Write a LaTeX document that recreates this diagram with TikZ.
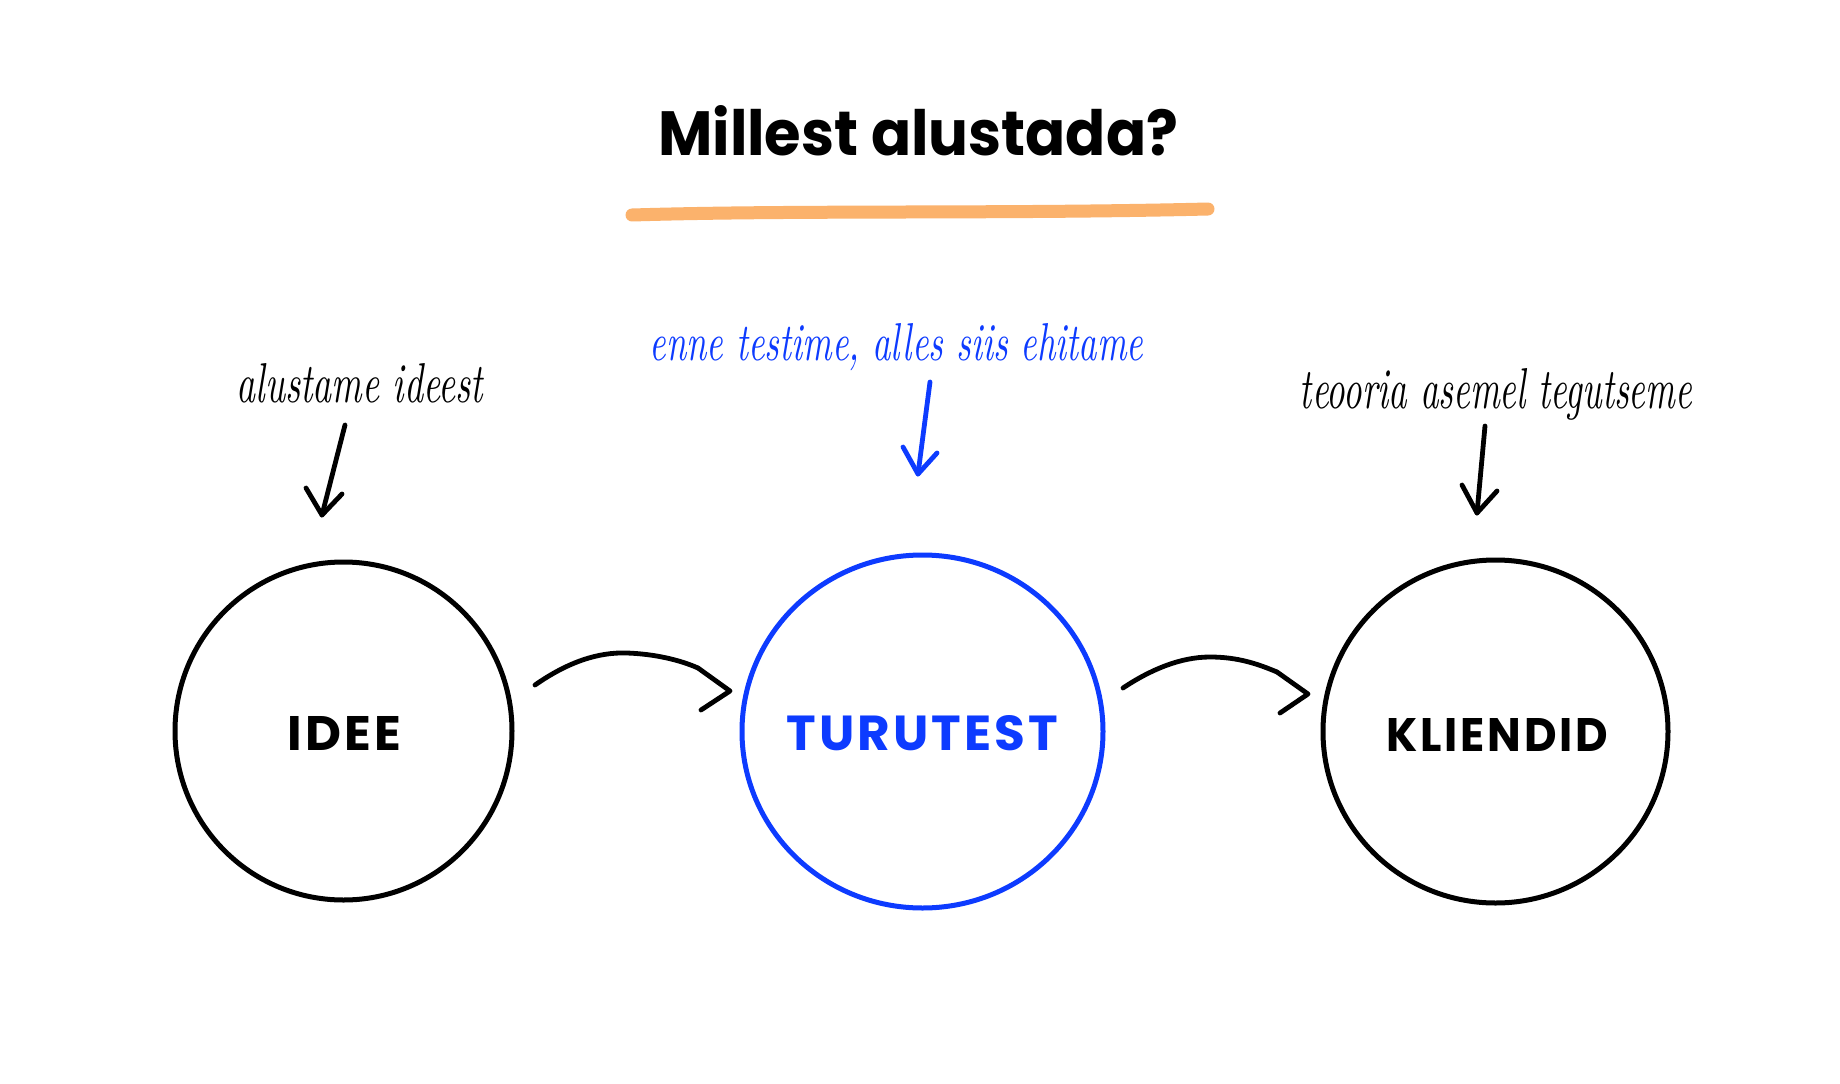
\documentclass[tikz,border=0pt]{standalone}
\usepackage{fontspec}
\usetikzlibrary{shapes.geometric}
\newfontfamily\titlefont{Poppins Bold}
\newfontfamily\labelfont{Poppins Bold}[LetterSpace=6]
\definecolor{brandblue}{HTML}{0D3BFF}
\definecolor{brandorange}{HTML}{FBB26C}
\begin{document}
\begin{tikzpicture}[x=1pt,y=-1pt,
  ring/.style={ellipse, draw, line width=5pt, inner sep=0pt},
  hand/.style={font=\itshape, inner sep=0pt, anchor=base},
  lbl/.style={inner sep=0pt, anchor=base},
  conn/.style={line width=4.8pt, line cap=round, line join=round}]
\fill[white] (0,0) rectangle (1840,1084);
\useasboundingbox (0,0) rectangle (1840,1084);

% title and underline
\node[lbl, anchor=base west] (title) at (658,155) {\resizebox{520pt}{50pt}{\titlefont Millest alustada?}};
\coordinate (ul1) at (632,215);
\coordinate (ul2) at (1208,209);
\draw[brandorange, line width=13pt, line cap=round] (ul1) .. controls (800,210) and (1000,214) .. (ul2);

% circles
\node[ring, minimum width=337pt, minimum height=338pt] (idee) at (343.5,731) {};
\node[ring, draw=brandblue, minimum width=361pt, minimum height=353pt] (turu) at (922.5,731.5) {};
\node[ring, minimum width=345pt, minimum height=343pt] (klient) at (1495.5,731.5) {};

% labels
\node[lbl] (ideet) at (344.5,750) {\resizebox{113pt}{34pt}{\labelfont IDEE}};
\node[lbl, text=brandblue] (turut) at (922.5,750) {\resizebox{271pt}{35pt}{\labelfont TURUTEST}};
\node[lbl] (klientt) at (1497.5,751) {\resizebox{221pt}{33pt}{\labelfont KLIENDID}};

% annotations
\node[hand] (a1) at (360,402) {\resizebox{246pt}{39pt}{alustame ideest}};
\node[hand, text=brandblue] (a2) at (896.5,360) {\resizebox{493pt}{37pt}{enne testime, alles siis ehitame}};
\node[hand] (a3) at (1496,408) {\resizebox{392pt}{40pt}{teooria asemel tegutseme}};

% down arrows
\coordinate (d1s) at (345,425); \coordinate (d1t) at (322,515);
\coordinate (d1l) at (306,488); \coordinate (d1r) at (342,494);
\draw[conn] (d1s) -- (d1t);
\draw[conn] (d1l) -- (d1t) -- (d1r);

\coordinate (d2s) at (930,382); \coordinate (d2t) at (918,474);
\coordinate (d2l) at (903,447); \coordinate (d2r) at (937,453);
\draw[conn, brandblue] (d2s) -- (d2t);
\draw[conn, brandblue] (d2l) -- (d2t) -- (d2r);

\coordinate (d3s) at (1485,426); \coordinate (d3t) at (1477,513);
\coordinate (d3l) at (1462,485); \coordinate (d3r) at (1497,491);
\draw[conn] (d3s) -- (d3t);
\draw[conn] (d3l) -- (d3t) -- (d3r);

% curved arrows
\coordinate (c1s) at (535,685); \coordinate (c1m) at (627,653);
\coordinate (c1e) at (698,668); \coordinate (c1t) at (730,691); \coordinate (c1w) at (701,710);
\draw[conn] (c1s) .. controls (568,662) and (598,652) .. (c1m) .. controls (655,654) and (680,660) .. (c1e);
\draw[conn] (c1e) -- (c1t) -- (c1w);

\coordinate (c2s) at (1123,688); \coordinate (c2m) at (1210,657);
\coordinate (c2e) at (1277,672); \coordinate (c2t) at (1308,694); \coordinate (c2w) at (1280,713);
\draw[conn] (c2s) .. controls (1150,670) and (1180,657) .. (c2m) .. controls (1238,657) and (1258,664) .. (c2e);
\draw[conn] (c2e) -- (c2t) -- (c2w);
\end{tikzpicture}
\end{document}
